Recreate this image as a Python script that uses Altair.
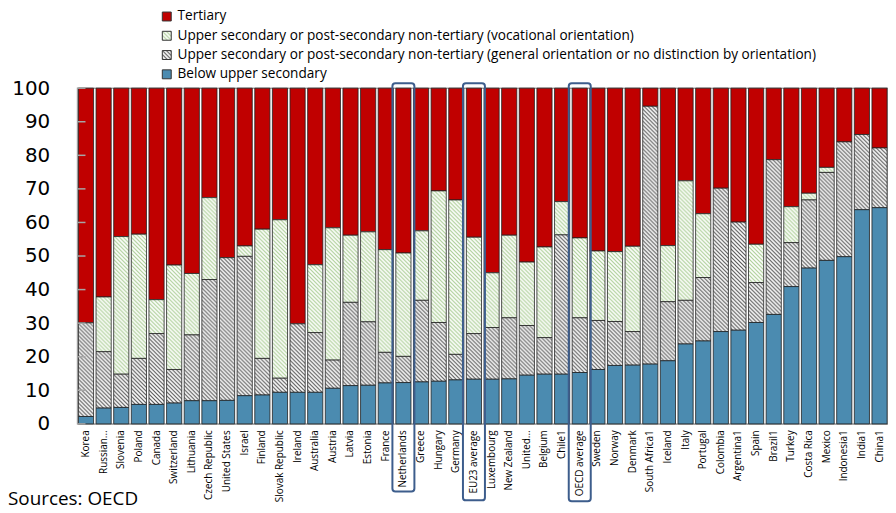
import altair as alt
import pandas as pd
import jinja2

countries = ["Korea", "Russian...", "Slovenia", "Poland", "Canada", "Switzerland", "Lithuania",
             "Czech Republic", "United States", "Israel", "Finland", "Slovak Republic", "Ireland",
             "Australia", "Austria", "Latvia", "Estonia", "France", "Netherlands", "Greece",
             "Hungary", "Germany", "EU23 average", "Luxembourg", "New Zealand", "United...",
             "Belgium", "Chile1", "OECD average", "Sweden", "Norway", "Denmark", "South Africa1",
             "Iceland", "Italy", "Portugal", "Colombia", "Argentina1", "Spain", "Brazil1", "Turkey",
             "Costa Rica", "Mexico", "Indonesia1", "India1", "China1"]

below = [2.2, 4.7, 4.9, 5.8, 5.8, 6.2, 6.9, 6.9, 7.0, 8.4, 8.6, 9.4, 9.4, 9.4, 10.6, 11.4, 11.5,
         12.2, 12.3, 12.5, 12.7, 13.1, 13.3, 13.3, 13.4, 14.5, 14.8, 14.8, 15.3, 16.2, 17.4, 17.5,
         17.8, 18.8, 23.8, 24.7, 27.5, 27.9, 30.2, 32.6, 40.9, 46.4, 48.7, 49.8, 63.8, 64.4]
general = [27.9, 16.8, 9.9, 13.7, 21.1, 10.0, 19.6, 36.1, 42.5, 41.5, 10.9, 4.2, 20.4, 17.8, 8.4,
           24.8, 18.9, 9.1, 7.8, 24.3, 17.5, 7.6, 13.6, 15.4, 18.2, 14.8, 10.9, 41.5, 16.3, 14.6,
           13.1, 10.0, 76.8, 17.6, 13.0, 18.9, 42.7, 32.2, 11.9, 46.1, 13.1, 20.3, 26.2, 34.2, 22.4,
           17.8]
vocational = [0.0, 16.3, 41.0, 37.0, 10.1, 31.1, 18.3, 24.4, 0.0, 3.1, 38.5, 47.2, 0.0, 20.2, 39.4,
              20.0, 26.8, 30.6, 30.8, 20.7, 39.2, 46.0, 28.7, 16.3, 24.6, 18.9, 27.0, 9.9, 23.8,
              20.7, 20.8, 25.4, 0.0, 16.7, 35.6, 19.0, 0.0, 0.0, 11.4, 0.0, 10.7, 2.0, 1.5, 0.0,
              0.0, 0.0]
tertiary = [69.9, 62.2, 44.2, 43.5, 63.0, 52.7, 55.2, 32.6, 50.5, 47.0, 42.0, 39.2, 70.2, 52.6,
            41.6, 43.8, 42.8, 48.1, 49.1, 42.5, 30.6, 33.3, 44.4, 55.0, 43.8, 51.8, 47.3, 33.8,
            44.6, 48.5, 48.7, 47.1, 5.4, 46.9, 27.6, 37.4, 29.8, 39.9, 46.5, 21.3, 35.3, 31.3,
            23.6, 16.0, 13.8, 17.8]

levels = ["Tertiary",
          "Upper secondary or post-secondary non-tertiary (vocational orientation)",
          "Upper secondary or post-secondary non-tertiary (general orientation or no distinction by orientation)",
          "Below upper secondary"]
series = [tertiary, vocational, general, below]

highlighted = ["Netherlands", "EU23 average", "OECD average"]
y_ticks = [0, 10, 20, 30, 40, 50, 60, 70, 80, 90, 100]
source_note = ["Sources: OECD"]

RED = "#c00000"
BLUE = "#4b8bb0"
PAT_VOC = "url(#hatchVoc)"
PAT_GEN = "url(#hatchGen)"

DEFS = """
<svg style="position:absolute;width:0;height:0;overflow:hidden" aria-hidden="true">
 <defs>
  <pattern id="hatchGen" patternUnits="userSpaceOnUse" width="4" height="4">
   <rect width="4" height="4" fill="#ffffff"/>
   <path d="M-1,-1 L5,5 M-1,3 L1,5 M3,-1 L5,1" stroke="#555555" stroke-width="1.15"/>
  </pattern>
  <pattern id="hatchVoc" patternUnits="userSpaceOnUse" width="4" height="4">
   <rect width="4" height="4" fill="#ffffff"/>
   <path d="M-1,-1 L5,5 M-1,3 L1,5 M3,-1 L5,1" stroke="#a8cc92" stroke-width="1.1"/>
  </pattern>
 </defs>
</svg>
"""

rows = []
for lvl_i, (lvl, vals) in enumerate(zip(levels, series)):
    for c, v in zip(countries, vals):
        if v > 0:
            rows.append({"country": c, "level": lvl, "value": v, "ord": 3 - lvl_i})
df = pd.DataFrame(rows)

W, H = 816, 338


def build(fills):
    x_enc = alt.X("country:N", sort=countries,
                  scale=alt.Scale(paddingInner=0.14, paddingOuter=0.05),
                  axis=alt.Axis(title=None, labelAngle=-90, ticks=False, domainColor="#a6a6a6",
                                domainWidth=1.5, labelFont="Open Sans", labelFontSize=10,
                                labelColor="#000000", labelPadding=6, labelLimit=300))

    y_axis = alt.Axis(title=None, values=y_ticks, grid=False, ticks=False,
                      labelOverlap=False, labelFlush=False,
                      domainColor="#a6a6a6", domainWidth=1.5, labelFont="DejaVu Sans",
                      labelFontSize=20, labelColor="#000000", labelPadding=28)
    y_scale = alt.Scale(domain=[0, 100], nice=False)

    bars = alt.Chart(df).mark_bar(stroke="#222222", strokeWidth=0.8).encode(
        x=x_enc,
        y=alt.Y("value:Q", stack="zero", scale=y_scale, axis=y_axis),
        color=alt.Color("level:N", sort=levels,
                        scale=alt.Scale(domain=levels, range=fills),
                        legend=alt.Legend(title=None, orient="none", legendX=83, legendY=-79,
                                          symbolType="square", symbolSize=81,
                                          symbolStrokeColor="#333333", symbolStrokeWidth=1,
                                          labelFont="Open Sans", labelFontSize=13.7,
                                          labelColor="#000000", labelLimit=900, rowPadding=4.4,
                                          labelOffset=4, padding=0)),
        order=alt.Order("ord:Q", sort="ascending"),
    )

    tick_df = pd.DataFrame({"v": y_ticks})
    ticks = alt.Chart(tick_df).mark_rule(color="#a6a6a6", strokeWidth=1.5).encode(
        y=alt.Y("v:Q", scale=y_scale, axis=y_axis), x=alt.value(0), x2=alt.value(8))

    box_bottoms = {"Netherlands": 406, "EU23 average": 415, "OECD average": 416}
    boxes = []
    for name in highlighted:
        bdf = pd.DataFrame({"country": [name]})
        boxes.append(alt.Chart(bdf).mark_bar(fillOpacity=0, stroke="#3d5d8c", strokeWidth=2,
                                             cornerRadius=3, width={"band": 1.45}).encode(
            x=alt.X("country:N", sort=countries), y=alt.value(-5), y2=alt.value(box_bottoms[name])))

    note = alt.Chart(pd.DataFrame({"t": source_note})).mark_text(
        align="left", baseline="alphabetic", font="Open Sans", fontSize=19, color="#000000").encode(
        x=alt.value(-70), y=alt.value(H + 82), text="t:N")

    chart = alt.layer(bars, ticks, *boxes, note).properties(
        width=W, height=H, padding={"left": 0, "top": 0, "right": 0, "bottom": 0}
    ).configure_view(stroke="#a6a6a6", strokeWidth=1.5)
    return chart


EMBED = {"renderer": "svg", "actions": False}
try:
    chart = build([RED, PAT_VOC, PAT_GEN, BLUE])
    html = chart.to_html(embed_options=EMBED)
    if "<body>" not in html:
        raise ValueError("no body")
    html = html.replace("<body>", "<body>" + DEFS, 1)
    tmpl = jinja2.Template("{% raw %}" + html + "{% endraw %}")
    chart.save("out.html", embed_options=EMBED, template=tmpl)
except Exception:
    chart = build([RED, "#e3edd9", "#a9a9a9", BLUE])
    chart.save("out.html", embed_options={"renderer": "svg", "actions": False})
